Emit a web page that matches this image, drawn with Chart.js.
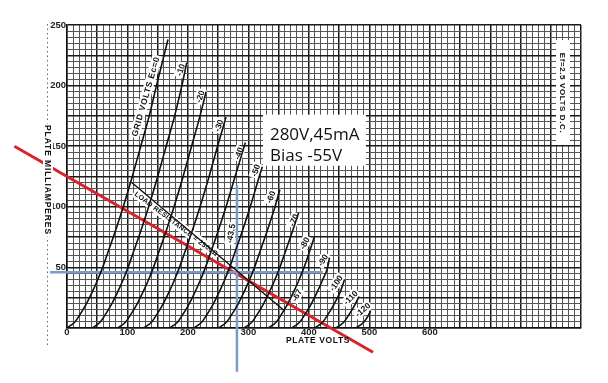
<!DOCTYPE html>
<html><head><meta charset="utf-8">
<script src="https://cdn.jsdelivr.net/npm/chart.js@4.4.0/dist/chart.umd.min.js"></script>
<style>html,body{margin:0;padding:0;background:#fff}#wrap{width:608px;height:383px;position:relative}</style>
</head><body><div id="wrap"><canvas id="c" width="608" height="383"></canvas></div>
<script>
// ---- data: [plate volts, plate mA] ----
const gridVoltLabels = ['0','-10','-20','-30','-40','-50','-60','-70','-80','-90','-100','-110','-120'];
const grid0    = [[0,0],[13,5],[20,10],[32,20],[42,30],[51,40],[59,50],[66,60],[80,80],[93,100],[108,125],[122,150],[136,175],[148,200],[167,238]];
const gridM10  = [[42,0],[55,5],[62,10],[74,20],[84,30],[93,40],[101,50],[108,60],[122,80],[135,100],[150,125],[164,150],[178,175],[190,200],[198,219]];
const gridM20  = [[84,0],[97,5],[104,10],[116,20],[126,30],[135,40],[143,50],[150,60],[164,80],[177,100],[192,125],[206,150],[220,175],[230,195]];
const gridM30  = [[127,0],[140,5],[147,10],[159,20],[169,30],[178,40],[186,50],[193,60],[207,80],[220,100],[235,125],[249,150],[263,174]];
const gridM40  = [[170,0],[183,5],[190,10],[202,20],[212,30],[221,40],[229,50],[236,60],[250,80],[263,100],[278,125],[295,153]];
const gridM50  = [[210,0],[223,5],[230,10],[242,20],[252,30],[261,40],[269,50],[276,60],[290,80],[303,100],[318,125],[323,133]];
const gridM60  = [[251,0],[264,5],[271,10],[283,20],[293,30],[302,40],[310,50],[317,60],[331,80],[344,100],[352,114]];
const gridM70  = [[293,0],[306,5],[313,10],[325,20],[335,30],[344,40],[352,50],[359,60],[373,80],[383,95]];
const gridM80  = [[333,0],[346,5],[353,10],[365,20],[375,30],[384,40],[392,50],[399,60],[409,75]];
const gridM90  = [[372,0],[385,5],[392,10],[404,20],[414,30],[423,40],[431,50],[434,58]];
const gridM100 = [[410,0],[423,5],[430,10],[442,20],[452,30],[459,40]];
const gridM110 = [[445,0],[458,5],[465,10],[477,20],[483,26]];
const gridM120 = [[478,0],[491,5],[498,10],[502,14]];
const xTickLabels = [0,100,200,300,400,500,600];
const yTickLabels = [50,100,150,200,250];
const loadLine2500 = [[107,120],[360,14]];
const redLoadLine = [[-87,150],[506,-20]];
const blueVertical = [[281,118],[281,-36]];
const blueHorizontal = [[-28,46],[423,46]];

const curves = [grid0,gridM10,gridM20,gridM30,gridM40,gridM50,gridM60,gridM70,gridM80,gridM90,gridM100,gridM110,gridM120];
const toXY = arr => arr.map(p => ({x:p[0], y:p[1]}));

// ---- annotation placement (data coords) ----
const curveLabelSpots = [
  {t:'GRID VOLTS Ec=0', v:130, i:191, a:-74, sp:'0.6px'},
  {t:'-10', v:188, i:213, a:-72},
  {t:'-20', v:220, i:191, a:-72},
  {t:'-30', v:251, i:167, a:-72},
  {t:'-40', v:284, i:144, a:-70},
  {t:'-50', v:312, i:130, a:-70},
  {t:'-60', v:337, i:108, a:-68},
  {t:'-70', v:375, i:89, a:-65},
  {t:'-80', v:393, i:70, a:-62},
  {t:'-90', v:423, i:56, a:-58},
  {t:'-100', v:445, i:37, a:-55},
  {t:'-110', v:469, i:25, a:-45},
  {t:'-120', v:489, i:15, a:-40},
  {t:'-43.5', v:271, i:78, a:-80},
  {t:'-67', v:380, i:27, a:-62}
];

const lblFont = 'bold 8.5px "Liberation Sans", "DejaVu Sans", sans-serif';

function rotText(ctx, text, x, y, deg, font, bg, spacing) {
  ctx.save();
  ctx.translate(x, y);
  ctx.rotate(deg * Math.PI / 180);
  ctx.font = font;
  if (spacing) ctx.letterSpacing = spacing;
  const w = ctx.measureText(text).width;
  if (bg) {
    ctx.fillStyle = '#fff';
    ctx.fillRect(-w/2 - 1.5, -5, w + 3, 10);
  }
  ctx.fillStyle = '#111';
  ctx.textAlign = 'center';
  ctx.textBaseline = 'middle';
  ctx.fillText(text, 0, 0.5);
  ctx.restore();
}

const overlay = {
  id: 'overlay',
  beforeDatasetsDraw(chart) {
    const {ctx} = chart;
    const xs = chart.scales.x, ys = chart.scales.y;
    curveLabelSpots.forEach(s => {
      rotText(ctx, s.t, xs.getPixelForValue(s.v), ys.getPixelForValue(s.i), s.a, lblFont, true, s.sp);
    });
    rotText(ctx, 'LOAD RESISTANCE = 2500\u03A9', xs.getPixelForValue(181), ys.getPixelForValue(86), 37,
      'bold 7px "Liberation Sans", "DejaVu Sans", sans-serif', true, '0.3px');
  },
  afterDatasetsDraw(chart) {
    const {ctx, chartArea} = chart;
    const xs = chart.scales.x, ys = chart.scales.y;
    ctx.save();
    ctx.strokeStyle = '#666';
    ctx.lineWidth = 1;
    ctx.setLineDash([1.5, 3]);
    ctx.beginPath();
    ctx.moveTo(47.5, chartArea.top - 1);
    ctx.lineTo(47.5, chartArea.bottom + 17);
    ctx.stroke();
    ctx.restore();
    rotText(ctx, 'PLATE MILLIAMPERES', 48, 180, 90, 'bold 8.5px "Liberation Sans", "DejaVu Sans", sans-serif', true, '0.9px');
    rotText(ctx, 'PLATE VOLTS', 318, 340, 0, 'bold 8.5px "Liberation Sans", "DejaVu Sans", sans-serif', false, '0.6px');
    ctx.fillStyle = '#fff';
    ctx.fillRect(556, 40, 14, 105);
    rotText(ctx, 'Ef=2.5 VOLTS D.C.', 563, 93, 90, 'bold 8px "Liberation Sans", "DejaVu Sans", sans-serif', false, '0.6px');
    const bx = xs.getPixelForValue(324), by = ys.getPixelForValue(176);
    ctx.fillStyle = '#fff';
    ctx.fillRect(bx, by, 103, 51);
    ctx.fillStyle = '#111';
    ctx.font = '17px "Open Sans", Lato, sans-serif';
    ctx.textAlign = 'left';
    ctx.textBaseline = 'alphabetic';
    ctx.fillText('280V,45mA', bx + 7, by + 25);
    ctx.fillText('Bias -55V', bx + 7, by + 46);
  }
};

const datasets = curves.map((c, k) => ({
  label: gridVoltLabels[k] + ' V',
  data: toXY(c),
  borderColor: '#111',
  borderWidth: 1.6,
  pointRadius: 0,
  cubicInterpolationMode: 'monotone',
  fill: false
}));
datasets.push({label:'2500 ohm', data: toXY(loadLine2500), borderColor:'#111', borderWidth:1.4, pointRadius:0, fill:false});
datasets.push({label:'blue V', data: toXY(blueVertical), borderColor:'#7d9bc9', borderWidth:2.5, pointRadius:0, fill:false, clip:false});
datasets.push({label:'blue H', data: toXY(blueHorizontal), borderColor:'#7d9bc9', borderWidth:2.5, pointRadius:0, fill:false, clip:false});
datasets.push({label:'red', data: toXY(redLoadLine), borderColor:'#d8232a', borderWidth:3, pointRadius:0, fill:false, clip:false});

new Chart(document.getElementById('c'), {
  type: 'line',
  data: { datasets },
  options: {
    responsive: false,
    animation: false,
    devicePixelRatio: 1,
    layout: { padding: { top: 25, right: 27, left: 0, bottom: 0 } },
    plugins: { legend: { display: false }, tooltip: { enabled: false } },
    scales: {
      x: {
        type: 'linear', min: 0, max: 850,
        afterFit: s => { s.height = 55; },
        border: { display: true, color: '#111', width: 1.5 },
        grid: {
          drawTicks: false,
          color: c => (c.tick.value % 50 === 0 ? '#1a1a1a' : '#555'),
          lineWidth: c => (c.tick.value % 50 === 0 ? 1.5 : 1)
        },
        ticks: {
          stepSize: 10, autoSkip: false, maxRotation: 0, padding: -1,
          color: '#222',
          font: { family: '"Liberation Sans", "DejaVu Sans", sans-serif', size: 9.5, weight: 'bold' },
          callback: v => (xTickLabels.includes(v) ? String(v) : '')
        }
      },
      y: {
        type: 'linear', min: 0, max: 250,
        afterFit: s => { s.width = 67; },
        border: { display: true, color: '#111', width: 1.5 },
        grid: {
          drawTicks: false,
          color: c => (c.tick.value % 25 === 0 ? '#1a1a1a' : '#555'),
          lineWidth: c => (c.tick.value % 25 === 0 ? 1.5 : 1)
        },
        ticks: {
          stepSize: 5, autoSkip: false, padding: 1,
          color: '#222',
          font: { family: '"Liberation Sans", "DejaVu Sans", sans-serif', size: 9.5, weight: 'bold' },
          callback: v => (yTickLabels.includes(v) ? String(v) : '')
        }
      }
    }
  },
  plugins: [overlay]
});
</script>
</body></html>
